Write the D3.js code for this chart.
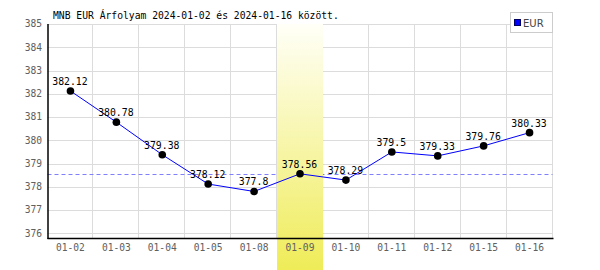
<!DOCTYPE html>
<html>
<head>
<meta charset="utf-8">
<script src="https://cdn.jsdelivr.net/npm/d3@7"></script>
<style>
  body { margin: 0; background: #fff; }
  svg { display: block; }
</style>
</head>
<body>
<div id="chart-area"></div>
<script>
const dates = ["01-02", "01-03", "01-04", "01-05", "01-08", "01-09", "01-10", "01-11", "01-12", "01-15", "01-16"];
const rates = [382.12, 380.78, 379.38, 378.12, 377.8, 378.56, 378.29, 379.5, 379.33, 379.76, 380.33];
const yTicks = [376, 377, 378, 379, 380, 381, 382, 383, 384, 385];
const highlightDate = "01-09";
const seriesName = "EUR";
const title = "MNB EUR Árfolyam 2024-01-02 és 2024-01-16 között.";

const width = 600, height = 270;
const plot = {left: 47.5, right: 552.5, top: 24, bottom: 238};
const mono = "'DejaVu Sans Mono', monospace";

let svg = d3.select("#chart-area")
  .append("svg")
  .attr("width", width)
  .attr("height", height);

let x = d3.scaleBand().domain(dates).range([plot.left, plot.right]);
let y = d3.scaleLinear().domain([375.8, 385]).range([plot.bottom, plot.top]);

let data = dates.map((d, i) => ({date: d, value: rates[i]}));

// gradient for the highlighted day
let grad = svg.append("defs").append("linearGradient")
  .attr("id", "hl").attr("x1", 0).attr("y1", 0).attr("x2", 0).attr("y2", 1);
grad.append("stop").attr("offset", "0%").attr("stop-color", "#fffff8");
grad.append("stop").attr("offset", "100%").attr("stop-color", "#efec58");

// grid
svg.append("g").selectAll("line")
  .data(yTicks)
  .join("line")
  .attr("x1", plot.left).attr("x2", plot.right)
  .attr("y1", d => Math.round(y(d)) + 0.5).attr("y2", d => Math.round(y(d)) + 0.5)
  .attr("stroke", "#dcdcdc");

svg.append("g").selectAll("line")
  .data(dates)
  .join("line")
  .attr("x1", d => Math.round(x(d) + x.bandwidth()) - 0.5)
  .attr("x2", d => Math.round(x(d) + x.bandwidth()) - 0.5)
  .attr("y1", plot.top).attr("y2", plot.bottom)
  .attr("stroke", "#dcdcdc");

// reference line at the highlighted day's value
let hlValue = rates[dates.indexOf(highlightDate)];
svg.append("line")
  .attr("x1", plot.left).attr("x2", plot.right)
  .attr("y1", Math.round(y(hlValue)) + 0.5).attr("y2", Math.round(y(hlValue)) + 0.5)
  .attr("stroke", "#8080ff")
  .attr("stroke-dasharray", "4,3");

// highlight band
svg.append("rect")
  .attr("x", Math.round(x(highlightDate)))
  .attr("y", plot.top)
  .attr("width", Math.round(x.bandwidth()))
  .attr("height", height - plot.top)
  .attr("fill", "url(#hl)");

// axes
svg.append("line")
  .attr("x1", plot.left + 0.5).attr("x2", plot.left + 0.5)
  .attr("y1", plot.top).attr("y2", plot.bottom + 1)
  .attr("stroke", "#000").attr("stroke-width", 1.5);
svg.append("line")
  .attr("x1", plot.left).attr("x2", plot.right + 1)
  .attr("y1", plot.bottom + 0.5).attr("y2", plot.bottom + 0.5)
  .attr("stroke", "#000").attr("stroke-width", 1.5);

// y tick labels
svg.append("g").selectAll("text")
  .data(yTicks)
  .join("text")
  .attr("x", 42)
  .attr("y", d => y(d))
  .attr("dy", "0.35em")
  .attr("text-anchor", "end")
  .style("font-family", mono)
  .style("font-size", "9.6px")
  .attr("fill", "#606060")
  .text(d => d);

// x tick labels
svg.append("g").selectAll("text")
  .data(dates)
  .join("text")
  .attr("x", d => x(d) + x.bandwidth() / 2)
  .attr("y", 251)
  .attr("text-anchor", "middle")
  .style("font-family", mono)
  .style("font-size", "9.6px")
  .attr("fill", "#606060")
  .text(d => d);

// series line
let line = d3.line()
  .x(d => x(d.date) + x.bandwidth() / 2)
  .y(d => y(d.value));

svg.append("path")
  .datum(data)
  .attr("d", line)
  .attr("fill", "none")
  .attr("stroke", "#0000ff")
  .attr("stroke-width", 1);

svg.append("g").selectAll("circle")
  .data(data)
  .join("circle")
  .attr("cx", d => x(d.date) + x.bandwidth() / 2)
  .attr("cy", d => y(d.value))
  .attr("r", 3.8)
  .attr("fill", "#000");

svg.append("g").selectAll("text")
  .data(data)
  .join("text")
  .attr("x", d => x(d.date) + x.bandwidth() / 2 - 0.5)
  .attr("y", d => y(d.value) - 6)
  .attr("text-anchor", "middle")
  .style("font-family", mono)
  .style("font-size", "9.8px")
  .attr("fill", "#000")
  .text(d => d.value);

// title
svg.append("text")
  .attr("x", 53)
  .attr("y", 19)
  .style("font-family", mono)
  .style("font-size", "9.7px")
  .attr("fill", "#000")
  .text(title);

// legend
let legend = svg.append("g");
legend.append("rect")
  .attr("x", 510.5).attr("y", 12.5)
  .attr("width", 42).attr("height", 20)
  .attr("fill", "#fff")
  .attr("stroke", "#cccccc");
legend.append("rect")
  .attr("x", 514.5).attr("y", 19.5)
  .attr("width", 6).attr("height", 6)
  .attr("fill", "#0000ff")
  .attr("stroke", "#000060");
legend.append("text")
  .attr("x", 523)
  .attr("y", 26.5)
  .style("font-family", "'DejaVu Sans', sans-serif")
  .style("font-size", "10px")
  .attr("fill", "#444")
  .text(seriesName);
</script>
</body>
</html>
